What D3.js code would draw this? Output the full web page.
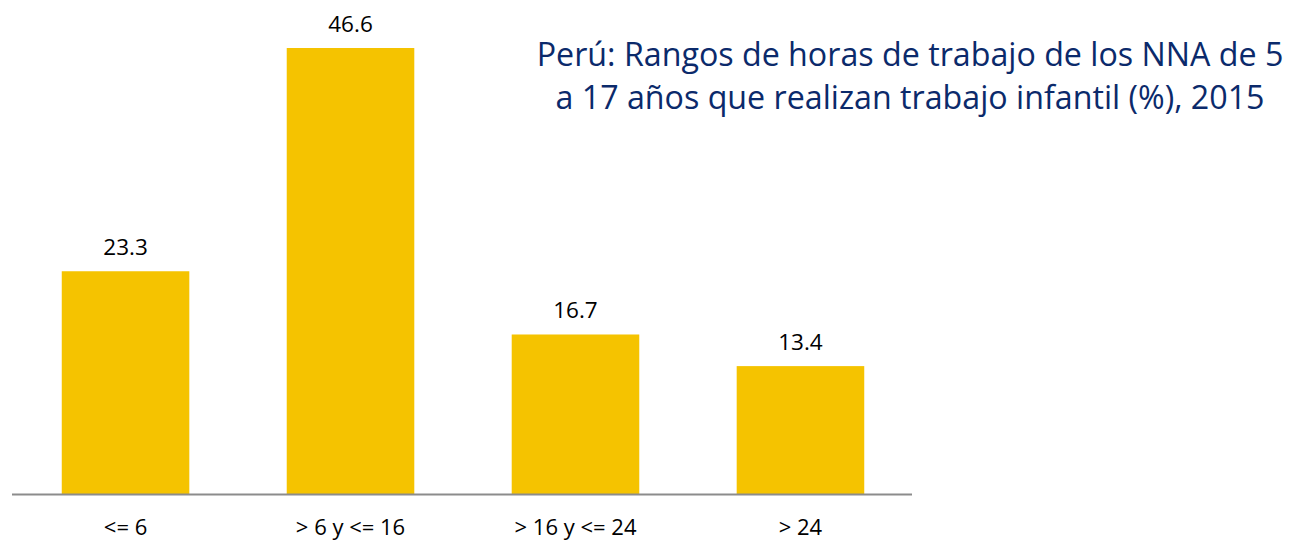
<!DOCTYPE html>
<html lang="es">
    <head>
        <meta charset="UTF-8" />
        <title>Rangos de horas de trabajo</title>
        <script src="https://d3js.org/d3.v7.min.js"></script>
        <style>
            body { margin: 0; background: #fff; }
        </style>
    </head>
    <body>
        <svg width="1303" height="542"></svg>

        <script>
            // datos
            const categories = ["<= 6", "> 6 y <= 16", "> 16 y <= 24", "> 24"];
            const values = [23.3, 46.6, 16.7, 13.4];
            const titleLines = [
                "Perú: Rangos de horas de trabajo de los NNA de 5",
                "a 17 años que realizan trabajo infantil (%), 2015",
            ];

            const font = "Open Sans, Noto Sans, sans-serif";
            const svg = d3.select("svg");

            const baseY = 494.5;
            const x = d3
                .scaleBand()
                .domain(categories)
                .range([13, 913])
                .paddingInner(0.433)
                .paddingOuter(0.2167);
            const y = d3.scaleLinear().domain([0, 46.6]).range([baseY, 48]);

            // barras
            svg.selectAll(".bar")
                .data(values)
                .enter()
                .append("rect")
                .attr("class", "bar")
                .attr("x", (d, i) => x(categories[i]))
                .attr("y", (d) => y(d))
                .attr("width", x.bandwidth())
                .attr("height", (d) => baseY - y(d))
                .attr("fill", "#F5C300");

            // eje x
            const xAxis = svg
                .append("g")
                .attr("transform", `translate(0,${baseY})`)
                .call(d3.axisBottom(x).tickSize(0).tickPadding(0));
            xAxis.select(".domain")
                .attr("d", "M12,0H912")
                .attr("stroke", "#8c8c8c")
                .attr("stroke-width", 2);
            xAxis.selectAll("text")
                .attr("y", 40)
                .attr("dy", null)
                .style("font-family", font)
                .style("font-size", "22px")
                .attr("fill", "#000");

            // etiquetas de valor
            svg.selectAll(".val")
                .data(values)
                .enter()
                .append("text")
                .attr("class", "val")
                .attr("x", (d, i) => x(categories[i]) + x.bandwidth() / 2)
                .attr("y", (d) => y(d) - 16)
                .attr("text-anchor", "middle")
                .style("font-family", font)
                .style("font-size", "22.5px")
                .text((d) => d.toFixed(1));

            // título
            const title = svg
                .selectAll(".title")
                .data(titleLines)
                .enter()
                .append("text")
                .attr("class", "title")
                .attr("x", 910)
                .attr("y", (d, i) => 66 + i * 43)
                .attr("text-anchor", "middle")
                .attr("fill", "#0B2A6B")
                .style("font-family", font)
                .style("font-size", "27px")
                .text((d) => d);
            // ajustar ancho al original (Calibri es más estrecha)
            const w0 = title.nodes()[0].getComputedTextLength();
            title.style("font-size", (27 * 747) / w0 + "px");
        </script>
    </body>
</html>
